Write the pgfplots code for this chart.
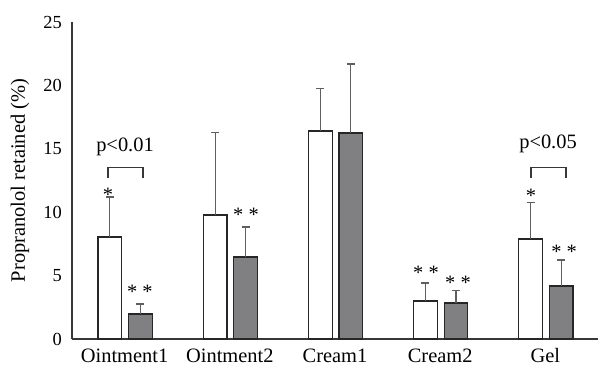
\documentclass[border=0pt]{standalone}
\usepackage{pgfplots}
\pgfplotsset{compat=1.18}
\usepackage{fontspec}
\setmainfont{Liberation Serif}
\definecolor{barGray}{RGB}{128,128,131}
\definecolor{errGray}{RGB}{95,95,95}
\definecolor{axGray}{RGB}{55,55,55}
\newcommand\annfont{\fontsize{20.5}{24}\selectfont}
\begin{document}
\begin{tikzpicture}
\begin{axis}[
  at={(0,0)}, anchor=south west,
  width=526bp, height=317bp, scale only axis,
  xmin=-0.5, xmax=4.5, ymin=0, ymax=25,
  axis x line=bottom, axis y line=left,
  axis line style={-, axGray, line width=1.1bp},
  xtick={0,1,2,3,4},
  xticklabels={Ointment1,Ointment2,Cream1,Cream2,Gel},
  ytick={0,5,10,15,20,25},
  major tick length=0pt,
  /pgf/number format/assume math mode=true,
  xticklabel style={font=\fontsize{20.5}{24}\selectfont, anchor=base, yshift=-23bp},
  yticklabel style={font=\fontsize{18.5}{22}\selectfont, anchor=east, inner sep=0pt, xshift=-10bp},
  ylabel={Propranolol retained (\%)},
  ylabel style={font=\fontsize{20.5}{24}\selectfont, at={(axis description cs:0,0.5)}, anchor=center, yshift=52bp},
  ybar, bar width=0.225, bar shift=0pt,
  clip=false,
]
\addplot[fill=white, draw=black!85, line width=1.2bp,
  error bars/.cd, y dir=plus, y explicit,
  error bar style={errGray, line width=1.1bp},
  error mark options={errGray, line width=1.1bp, mark size=4bp, rotate=90}]
  coordinates {(-0.14,8.04) +- (0,3.16) (0.86,9.78) +- (0,6.47) (1.86,16.40) +- (0,3.39) (2.86,3.00) +- (0,1.42) (3.86,7.89) +- (0,2.84)};
\addplot[fill=barGray, draw=black!85, line width=1.2bp,
  error bars/.cd, y dir=plus, y explicit,
  error bar style={errGray, line width=1.1bp},
  error mark options={errGray, line width=1.1bp, mark size=4bp, rotate=90}]
  coordinates {(0.15,1.97) +- (0,0.79) (1.15,6.47) +- (0,2.36) (2.15,16.25) +- (0,5.44) (3.15,2.84) +- (0,1.02) (4.15,4.18) +- (0,2.05)};
% significance annotations
\node[font=\annfont, anchor=base] at (axis cs:-0.158,10.88) {*};
\node[font=\annfont, anchor=base] at (axis cs:0.146,3.23) {* *};
\node[font=\annfont, anchor=base] at (axis cs:1.154,9.23) {* *};
\node[font=\annfont, anchor=base] at (axis cs:2.865,4.73) {* *};
\node[font=\annfont, anchor=base] at (axis cs:3.169,3.94) {* *};
\node[font=\annfont, anchor=base] at (axis cs:3.863,10.73) {*};
\node[font=\annfont, anchor=base] at (axis cs:4.177,6.31) {* *};
\draw[axGray, line width=1.1bp] (axis cs:-0.158,12.7) |- (axis cs:0.175,13.55) -- (axis cs:0.175,12.7);
\draw[axGray, line width=1.1bp] (axis cs:3.863,12.7) |- (axis cs:4.196,13.55) -- (axis cs:4.196,12.7);
\node[font=\annfont, anchor=base] at (axis cs:0.004,14.75) {p<0.01};
\node[font=\annfont, anchor=base] at (axis cs:4.025,15.05) {p<0.05};
\end{axis}
\pgfresetboundingbox
\useasboundingbox (-72bp,-26bp) rectangle (526bp,339bp);
\end{tikzpicture}
\end{document}
